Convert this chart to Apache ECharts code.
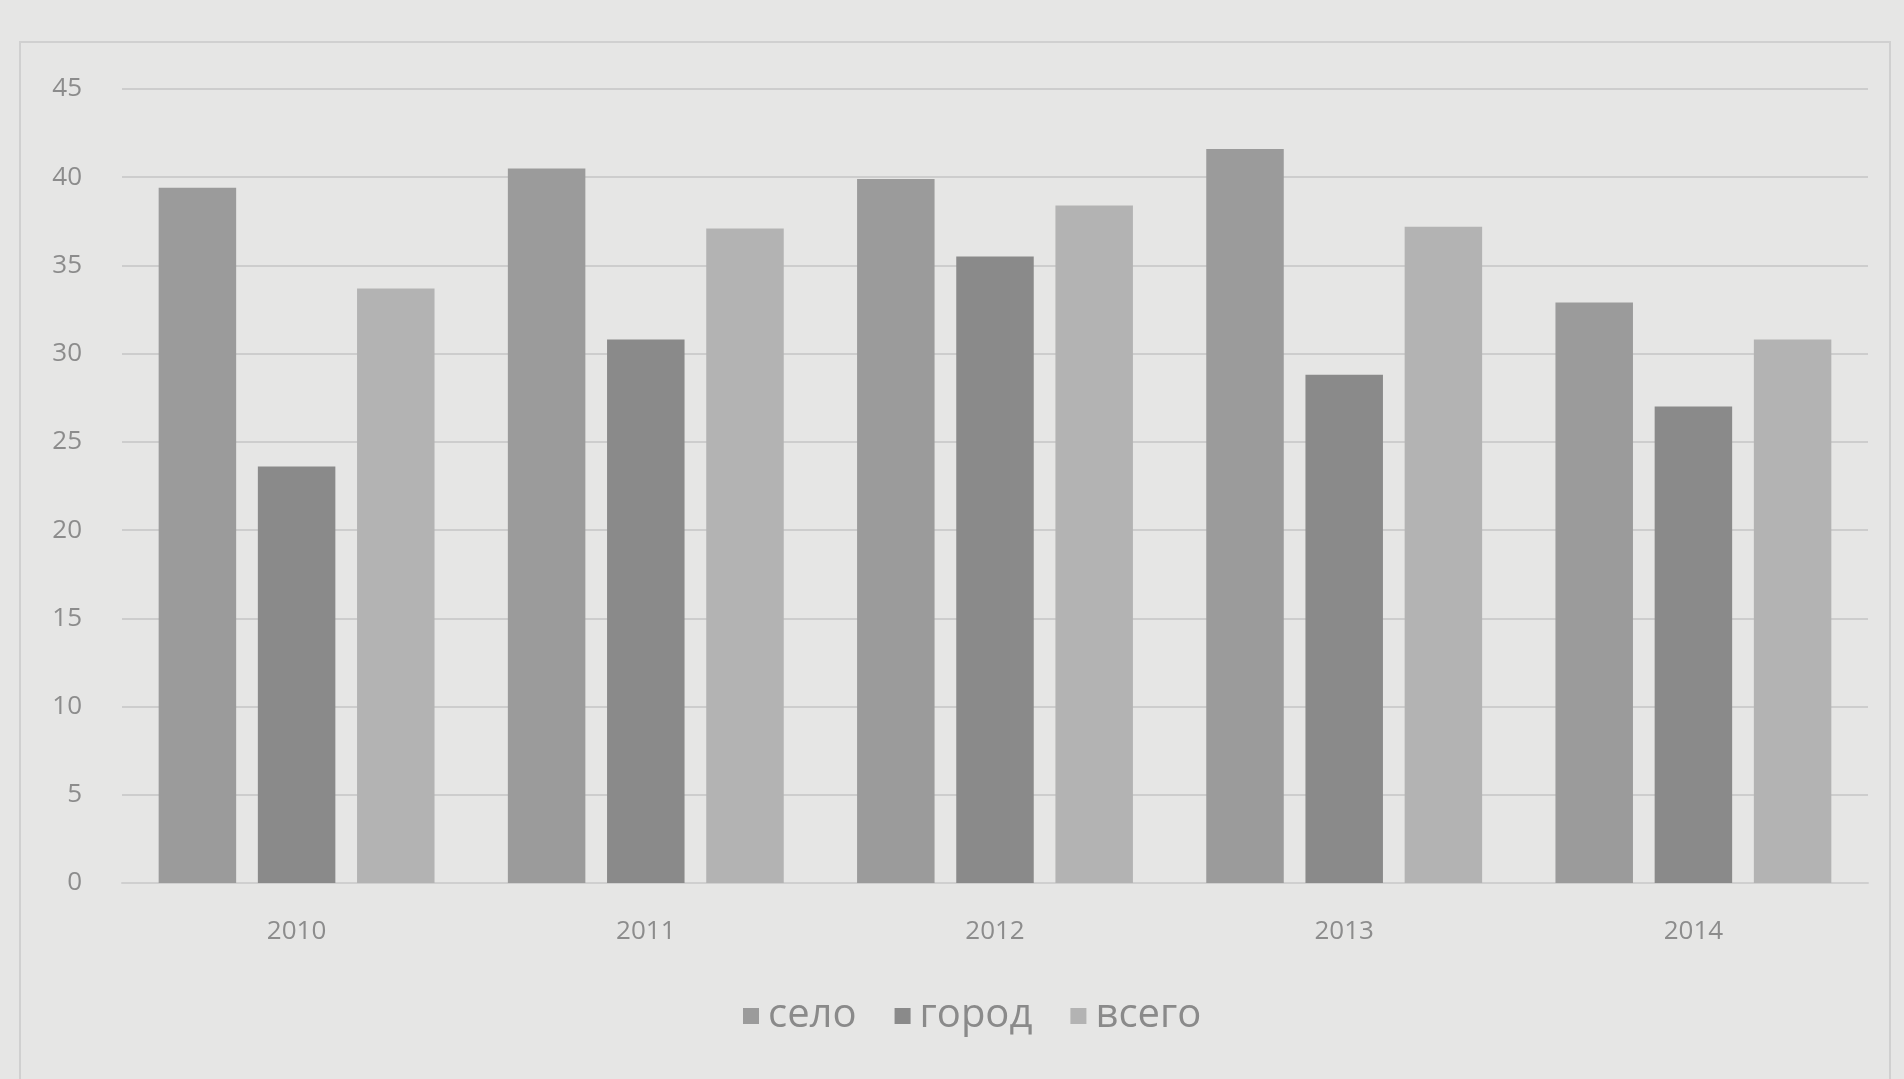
<!DOCTYPE html>
<html>
<head>
<meta charset="utf-8">
<script src="https://cdn.jsdelivr.net/npm/echarts@6/dist/echarts.min.js"></script>
<style>
html,body{margin:0;padding:0;background:#e6e6e5;}
#c{width:1904px;height:1079px;}
</style>
</head>
<body>
<div id="c"></div>
<script>
const categories = ['2010', '2011', '2012', '2013', '2014'];
const seriesNames = ['село', 'город', 'всего'];
const selo = [39.4, 40.5, 39.9, 41.6, 32.9];
const gorod = [23.6, 30.8, 35.5, 28.8, 27.0];
const vsego = [33.7, 37.1, 38.4, 37.2, 30.8];
const yTicks = [0, 5, 10, 15, 20, 25, 30, 35, 40, 45];

const colors = ['#9b9b9b', '#8a8a8a', '#b3b3b3'];
const chart = echarts.init(document.getElementById('c'));
chart.setOption({
  backgroundColor: '#e6e6e5',
  color: colors,
  textStyle: { fontFamily: 'Open Sans' },
  graphic: [{
    type: 'rect',
    shape: { x: 20, y: 42, width: 1870, height: 1060 },
    style: { fill: 'none', stroke: '#d0d0d0', lineWidth: 2 }
  }],
  grid: { left: 122, right: 36, top: 89, bottom: 1079 - 883 },
  legend: {
    data: seriesNames,
    bottom: 38,
    left: 738,
    itemWidth: 16,
    itemHeight: 16,
    itemGap: 38,
    icon: 'rect',
    textStyle: { fontSize: 40, color: '#8a8a8a', fontFamily: 'Open Sans', padding: [0, 0, 0, 4] }
  },
  xAxis: {
    type: 'category',
    data: categories,
    axisLine: { show: true, lineStyle: { color: '#cfcfcf', width: 2 } },
    axisTick: { show: false },
    axisLabel: { fontSize: 26, color: '#8c8c8c', margin: 36 }
  },
  yAxis: {
    type: 'value',
    min: 0,
    max: 45,
    interval: 5,
    axisLine: { show: false },
    axisTick: { show: false },
    splitLine: { lineStyle: { color: '#cdcdcd', width: 2 } },
    axisLabel: { fontSize: 26, color: '#8c8c8c', margin: 40,
      formatter: v => yTicks.includes(v) ? String(v) : '' }
  },
  series: [
    { name: seriesNames[0], type: 'bar', data: selo, barGap: '28%', barCategoryGap: '21%' },
    { name: seriesNames[1], type: 'bar', data: gorod, barGap: '28%', barCategoryGap: '21%' },
    { name: seriesNames[2], type: 'bar', data: vsego, barGap: '28%', barCategoryGap: '21%' }
  ]
});
</script>
</body>
</html>
